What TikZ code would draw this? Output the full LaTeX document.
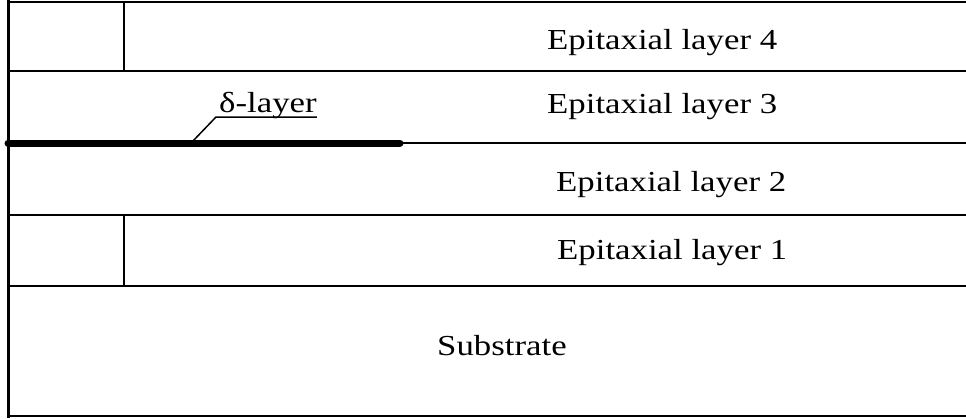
\documentclass[tikz,border=0pt]{standalone}
\usepackage{fontspec}
\setmainfont{Liberation Serif}
\begin{document}
\begin{tikzpicture}[x=1pt,y=-1pt,
  lbl/.style={anchor=base west,inner sep=0pt,font=\fontsize{29}{34}\selectfont},
  edge/.style={line width=2pt},
  wall/.style={line width=3pt}]
\useasboundingbox (0,0) rectangle (966,418);
% layer boundaries
\coordinate (tl) at (8.5,1.5);
\coordinate (bl) at (8.5,416);
\draw[edge] (tl) -- (966,1.5);
\draw[edge] (8.5,71) -- (966,71);
\draw[edge] (8.5,143) -- (966,143);
\draw[edge] (8.5,214.5) -- (966,214.5);
\draw[edge] (8.5,285.5) -- (966,285.5);
\draw[edge] (bl) -- (966,416);
\draw[wall] (8.5,0) -- (8.5,417.5);
% vertical dividers
\draw[edge] (123.5,1.5) -- (123.5,71);
\draw[edge] (123.5,214.5) -- (123.5,285.5);
% delta layer
\coordinate (ds) at (8,143);
\coordinate (de) at (400,143);
\draw[line width=7pt,line cap=round] (ds) -- (de);
% labels
\node[lbl] (l4) at (547,49) {\scalebox{1.2}[1]{Epitaxial layer 4}};
\node[lbl] (l3) at (547,113) {\scalebox{1.2}[1]{Epitaxial layer 3}};
\node[lbl] (l2) at (556,191) {\scalebox{1.2}[1]{Epitaxial layer 2}};
\node[lbl] (l1) at (557,259) {\scalebox{1.2}[1]{Epitaxial layer 1}};
\node[lbl] (sub) at (437,355) {\scalebox{1.2}[1]{Substrate}};
\node[lbl] (dl) at (219,112) {\scalebox{1.2}[1]{δ-layer}};
\coordinate (lf) at (192,142);
\coordinate (ul) at (216,117);
\draw[line width=1.5pt] (lf) -- (ul) -- (ul -| dl.east);
\end{tikzpicture}
\end{document}
